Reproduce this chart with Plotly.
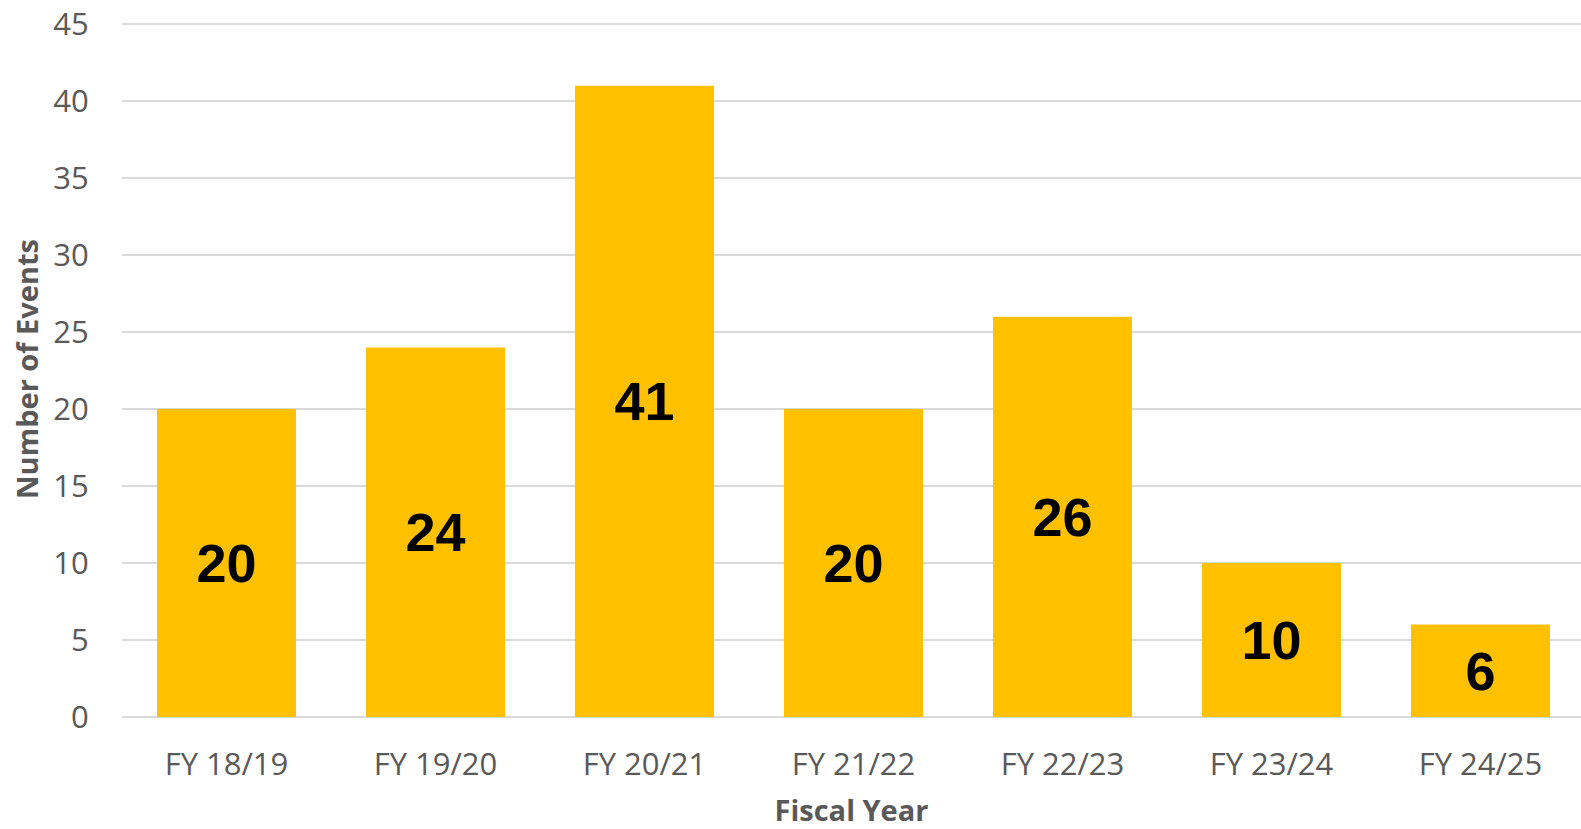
import plotly.graph_objects as go

categories = ["FY 18/19", "FY 19/20", "FY 20/21", "FY 21/22", "FY 22/23", "FY 23/24", "FY 24/25"]
events = [20, 24, 41, 20, 26, 10, 6]
y_ticks = [0, 5, 10, 15, 20, 25, 30, 35, 40, 45]

GRAY = "#595959"
TICK_FONT = "Open Sans"

fig = go.Figure(
    go.Bar(
        x=categories,
        y=events,
        marker=dict(color="#FFC000", line=dict(width=0)),
        text=[str(v) for v in events],
        textposition="inside",
        insidetextanchor="middle",
        textangle=0,
        textfont=dict(family="Liberation Sans, Arial", size=54, color="black", weight="bold"),
        constraintext="none",
        hoverinfo="x+y",
    )
)

fig.update_layout(
    width=1581,
    height=829,
    margin=dict(l=122, r=0, t=21, b=112),
    paper_bgcolor="white",
    plot_bgcolor="white",
    bargap=0.335,
    showlegend=False,
)

fig.update_xaxes(
    automargin=False,
    range=[-0.5, 6.481],
    tickfont=dict(family=TICK_FONT, size=31, color=GRAY),
    showgrid=False,
    showline=False,
    ticks="outside",
    ticklen=20,
    tickcolor="rgba(0,0,0,0)",
    title=dict(text="Fiscal Year", font=dict(family=TICK_FONT, size=29, color=GRAY, weight="bold"), standoff=21),
)

fig.update_yaxes(
    automargin=False,
    range=[0, 45.2],
    tickvals=y_ticks,
    tickfont=dict(family=TICK_FONT, size=31, color=GRAY),
    showgrid=True,
    gridcolor="#D9D9D9",
    gridwidth=2,
    zeroline=True,
    zerolinecolor="#D9D9D9",
    zerolinewidth=2,
    showline=False,
    ticks="outside",
    ticklen=26,
    tickcolor="rgba(0,0,0,0)",
    title=dict(text="Number of Events", font=dict(family=TICK_FONT, size=29, color=GRAY, weight="bold"), standoff=6),
)

fig.write_html(
    "out.html",
    config={"displayModeBar": False},
    post_script="document.body.style.margin='0';document.body.style.overflow='hidden';",
)
